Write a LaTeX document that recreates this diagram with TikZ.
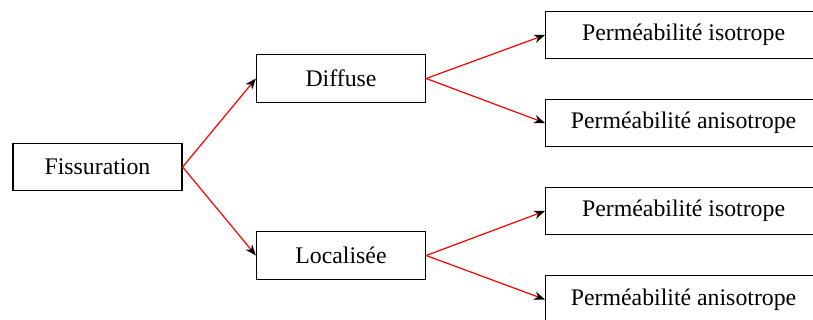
\documentclass[tikz,border=0pt]{standalone}
\usepackage{fontspec}
\setmainfont{Liberation Serif}
\usetikzlibrary{arrows.meta}
\begin{document}
\begin{tikzpicture}[x=1pt,y=-1pt,
  box/.style={draw=black, line width=1.2pt, inner sep=0pt, minimum height=47.5pt, font=\fontsize{23.8}{28}\selectfont},
  small/.style={box, minimum width=169pt},
  wide/.style={box, anchor=west, minimum width=300pt},
  link/.style={draw=red, line width=1.2pt, -{Stealth[black,length=11pt,width=8.5pt,inset=3.5pt]}}]
\useasboundingbox (0,0) rectangle (813,320);
\clip (0,0) rectangle (813,320);
\node[small] (fis) at (97.5,167) {Fissuration};
\node[small] (dif) at (341,78.5) {Diffuse};
\node[small] (loc) at (341,255.5) {Localisée};
\node[wide] (p1) at (545,35) {\hspace*{-24pt}Perméabilité isotrope};
\node[wide] (p2) at (545,123) {\hspace*{-24pt}Perméabilité anisotrope};
\node[wide] (p3) at (545,211) {\hspace*{-24pt}Perméabilité isotrope};
\node[wide] (p4) at (545,299.5) {\hspace*{-24pt}Perméabilité anisotrope};
\draw[link] (fis.east) -- (dif.west);
\draw[link] (fis.east) -- (loc.west);
\draw[link] (dif.east) -- (p1.west);
\draw[link] (dif.east) -- (p2.west);
\draw[link] (loc.east) -- (p3.west);
\draw[link] (loc.east) -- (p4.west);
\end{tikzpicture}
\end{document}
